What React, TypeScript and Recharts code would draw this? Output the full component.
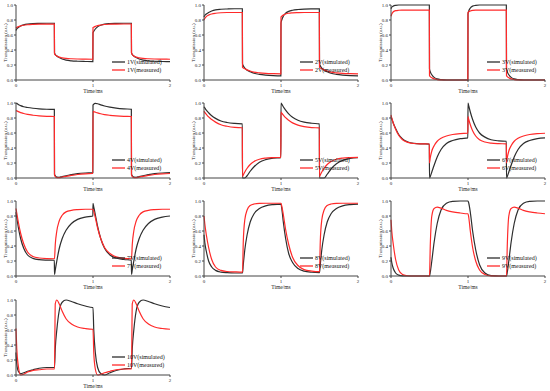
import React from "react"
import { LineChart, Line, XAxis, YAxis, Legend } from "recharts"

// time grid (ms), denser right after each switching edge
const time = [
  0, 0.01, 0.03, 0.06, 0.1, 0.15, 0.22, 0.3, 0.4, 0.498,
  0.5, 0.51, 0.53, 0.56, 0.6, 0.65, 0.72, 0.8, 0.9, 0.998,
  1.0, 1.01, 1.03, 1.06, 1.1, 1.15, 1.22, 1.3, 1.4, 1.498,
  1.5, 1.51, 1.53, 1.56, 1.6, 1.65, 1.72, 1.8, 1.9, 2.0,
]

const voltages = ["1V", "2V", "3V", "4V", "5V", "6V", "7V", "8V", "9V", "10V"]
const xTicks = [0, 1, 2]
const yTicks = [0, 0.2, 0.4, 0.6, 0.8, 1.0]

const sim1 = [
  0.66, 0.68, 0.7, 0.72, 0.735, 0.745, 0.752, 0.755, 0.757, 0.757,
  0.36, 0.34, 0.32, 0.3, 0.28, 0.265, 0.255, 0.25, 0.247, 0.245,
  0.63, 0.65, 0.68, 0.71, 0.73, 0.745, 0.752, 0.755, 0.757, 0.757,
  0.36, 0.34, 0.32, 0.3, 0.28, 0.265, 0.255, 0.25, 0.247, 0.245,
]
const meas1 = [
  0.69, 0.7, 0.71, 0.72, 0.73, 0.737, 0.742, 0.745, 0.746, 0.746,
  0.35, 0.335, 0.32, 0.305, 0.295, 0.288, 0.283, 0.28, 0.278, 0.277,
  0.7, 0.705, 0.715, 0.725, 0.733, 0.74, 0.744, 0.746, 0.747, 0.747,
  0.36, 0.34, 0.32, 0.305, 0.295, 0.288, 0.283, 0.28, 0.278, 0.277,
]
const sim2 = [
  0.84, 0.86, 0.88, 0.9, 0.92, 0.935, 0.943, 0.947, 0.95, 0.95,
  0.22, 0.19, 0.16, 0.13, 0.11, 0.09, 0.075, 0.065, 0.058, 0.055,
  0.76, 0.8, 0.85, 0.89, 0.915, 0.93, 0.94, 0.946, 0.949, 0.95,
  0.22, 0.19, 0.16, 0.13, 0.11, 0.09, 0.075, 0.065, 0.058, 0.055,
]
const meas2 = [
  0.8, 0.82, 0.845, 0.865, 0.88, 0.89, 0.897, 0.9, 0.9, 0.9,
  0.17, 0.16, 0.15, 0.135, 0.12, 0.105, 0.095, 0.088, 0.084, 0.082,
  0.84, 0.85, 0.865, 0.88, 0.89, 0.895, 0.898, 0.9, 0.9, 0.9,
  0.17, 0.16, 0.15, 0.135, 0.12, 0.105, 0.095, 0.088, 0.084, 0.082,
]
const sim3 = [
  0.95, 0.97, 0.985, 0.995, 1, 1, 1, 1, 1, 1,
  0.15, 0.11, 0.07, 0.035, 0.015, 0.005, 0, 0, 0, 0,
  0.88, 0.92, 0.96, 0.985, 0.995, 1, 1, 1, 1, 1,
  0.15, 0.11, 0.07, 0.035, 0.015, 0.005, 0, 0, 0, 0,
]
const meas3 = [
  0.85, 0.88, 0.91, 0.925, 0.93, 0.932, 0.933, 0.933, 0.933, 0.933,
  0.06, 0.045, 0.03, 0.015, 0.006, 0.002, 0, 0, 0, 0,
  0.9, 0.91, 0.92, 0.928, 0.932, 0.933, 0.933, 0.933, 0.933, 0.933,
  0.06, 0.045, 0.03, 0.015, 0.006, 0.002, 0, 0, 0, 0,
]
const sim4 = [
  1.0, 0.995, 0.98, 0.965, 0.95, 0.94, 0.93, 0.922, 0.917, 0.915,
  0.05, 0.03, 0.012, 0.01, 0.02, 0.03, 0.045, 0.058, 0.067, 0.072,
  0.97, 0.985, 0.995, 0.99, 0.975, 0.96, 0.945, 0.932, 0.922, 0.917,
  0.05, 0.03, 0.012, 0.01, 0.02, 0.03, 0.045, 0.058, 0.067, 0.072,
]
const meas4 = [
  0.9, 0.895, 0.885, 0.872, 0.86, 0.848, 0.837, 0.828, 0.822, 0.82,
  0.04, 0.02, 0.005, 0.005, 0.012, 0.022, 0.035, 0.047, 0.056, 0.06,
  0.89, 0.885, 0.878, 0.868, 0.857, 0.846, 0.836, 0.828, 0.822, 0.82,
  0.04, 0.02, 0.005, 0.005, 0.012, 0.022, 0.035, 0.047, 0.056, 0.06,
]
const sim5 = [
  0.95, 0.935, 0.905, 0.87, 0.83, 0.795, 0.76, 0.74, 0.728, 0.722,
  0, 0, 0, 0.03, 0.09, 0.15, 0.21, 0.245, 0.265, 0.272,
  1.0, 0.985, 0.95, 0.905, 0.855, 0.81, 0.77, 0.745, 0.73, 0.722,
  0, 0, 0, 0, 0.05, 0.12, 0.19, 0.235, 0.26, 0.27,
]
const meas5 = [
  0.89, 0.875, 0.85, 0.815, 0.78, 0.745, 0.71, 0.69, 0.675, 0.67,
  0.02, 0.04, 0.08, 0.13, 0.18, 0.22, 0.25, 0.265, 0.272, 0.275,
  0.88, 0.865, 0.84, 0.805, 0.77, 0.735, 0.705, 0.685, 0.672, 0.668,
  0.02, 0.04, 0.08, 0.13, 0.18, 0.22, 0.25, 0.265, 0.272, 0.275,
]
const sim6 = [
  0.82, 0.79, 0.73, 0.66, 0.58, 0.52, 0.48, 0.462, 0.455, 0.452,
  0, 0.02, 0.08, 0.17, 0.28, 0.38, 0.46, 0.5, 0.525, 0.535,
  1.0, 0.96, 0.88, 0.78, 0.68, 0.6, 0.545, 0.51, 0.495, 0.49,
  0, 0.02, 0.08, 0.17, 0.28, 0.38, 0.46, 0.5, 0.525, 0.535,
]
const meas6 = [
  0.84, 0.8, 0.73, 0.65, 0.57, 0.51, 0.475, 0.46, 0.455, 0.453,
  0.2, 0.27, 0.36, 0.43, 0.49, 0.53, 0.56, 0.58, 0.592, 0.597,
  0.82, 0.78, 0.71, 0.63, 0.56, 0.51, 0.48, 0.465, 0.458, 0.455,
  0.2, 0.27, 0.36, 0.43, 0.49, 0.53, 0.56, 0.58, 0.592, 0.597,
]
const sim7 = [
  0.85, 0.78, 0.65, 0.5, 0.37, 0.28, 0.235, 0.218, 0.212, 0.21,
  0.02, 0.08, 0.2, 0.36, 0.5, 0.61, 0.7, 0.755, 0.785, 0.8,
  0.97, 0.92, 0.82, 0.66, 0.5, 0.37, 0.28, 0.24, 0.22, 0.212,
  0.02, 0.08, 0.2, 0.36, 0.5, 0.61, 0.7, 0.755, 0.785, 0.8,
]
const meas7 = [
  0.9, 0.84, 0.72, 0.57, 0.43, 0.32, 0.26, 0.24, 0.232, 0.23,
  0.23, 0.42, 0.6, 0.73, 0.81, 0.855, 0.875, 0.885, 0.89, 0.89,
  0.89, 0.86, 0.78, 0.64, 0.5, 0.38, 0.3, 0.255, 0.235, 0.23,
  0.23, 0.42, 0.6, 0.73, 0.81, 0.855, 0.875, 0.885, 0.89, 0.89,
]
const sim8 = [
  0.55, 0.45, 0.33, 0.2, 0.12, 0.075, 0.052, 0.044, 0.04, 0.04,
  0.04, 0.15, 0.35, 0.55, 0.72, 0.83, 0.9, 0.935, 0.952, 0.958,
  0.958, 0.9, 0.72, 0.5, 0.3, 0.18, 0.1, 0.065, 0.05, 0.045,
  0.045, 0.15, 0.35, 0.55, 0.72, 0.83, 0.9, 0.935, 0.952, 0.958,
]
const meas8 = [
  0.8, 0.7, 0.55, 0.38, 0.22, 0.12, 0.075, 0.06, 0.055, 0.052,
  0.052, 0.45, 0.75, 0.88, 0.94, 0.96, 0.968, 0.97, 0.97, 0.97,
  0.97, 0.93, 0.82, 0.62, 0.42, 0.25, 0.14, 0.085, 0.065, 0.058,
  0.058, 0.45, 0.75, 0.88, 0.94, 0.96, 0.968, 0.97, 0.97, 0.97,
]
const sim9 = [
  0.25, 0.18, 0.1, 0.04, 0.012, 0.002, 0, 0, 0, 0,
  0, 0.05, 0.2, 0.45, 0.7, 0.88, 0.97, 0.995, 1, 1,
  1, 0.97, 0.85, 0.6, 0.35, 0.15, 0.04, 0.005, 0, 0,
  0, 0.05, 0.2, 0.45, 0.7, 0.88, 0.97, 0.995, 1, 1,
]
const meas9 = [
  0.75, 0.6, 0.42, 0.22, 0.08, 0.02, 0.003, 0, 0, 0,
  0, 0.4, 0.8, 0.9, 0.918, 0.905, 0.875, 0.855, 0.84, 0.83,
  0.83, 0.78, 0.6, 0.38, 0.2, 0.08, 0.02, 0.002, 0, 0,
  0, 0.4, 0.8, 0.9, 0.918, 0.905, 0.875, 0.855, 0.84, 0.83,
]
const sim10 = [
  0.3, 0.15, 0.05, 0.02, 0.03, 0.05, 0.07, 0.09, 0.1, 0.1,
  0.1, 0.35, 0.6, 0.85, 0.97, 1.0, 0.98, 0.95, 0.92, 0.9,
  0.9, 0.6, 0.3, 0.1, 0.02, 0, 0.03, 0.06, 0.08, 0.09,
  0.09, 0.35, 0.6, 0.85, 0.97, 1.0, 0.98, 0.95, 0.92, 0.9,
]
const meas10 = [
  0.62, 0.35, 0.12, 0, 0.01, 0.04, 0.06, 0.07, 0.08, 0.08,
  0.08, 0.95, 1.0, 0.95, 0.85, 0.75, 0.68, 0.64, 0.62, 0.61,
  0.61, 0.3, 0.08, 0, 0.01, 0.03, 0.05, 0.07, 0.08, 0.08,
  0.08, 0.95, 1.0, 0.95, 0.85, 0.75, 0.68, 0.64, 0.62, 0.61,
]

const simulated = [sim1, sim2, sim3, sim4, sim5, sim6, sim7, sim8, sim9, sim10]
const measured = [meas1, meas2, meas3, meas4, meas5, meas6, meas7, meas8, meas9, meas10]

const FONT = '"Liberation Serif", "Times New Roman", serif'
const BLACK = "#2e2e2e"
const RED = "#ff2a2a"
const colLeft = [0, 188, 375]
const rowTop = [0, 97.5, 196, 294.5]

const makeLegend = (v: string) => () => (
  <div style={{ fontFamily: FONT, fontSize: 6, lineHeight: "8px", color: "#111", whiteSpace: "nowrap" }}>
    {[
      [BLACK, "(simulated)"],
      [RED, "(measured)"],
    ].map(([c, txt]) => (
      <div key={txt} style={{ display: "flex", alignItems: "center", height: 8 }}>
        <svg width={13} height={8} style={{ marginRight: 2 }}>
          <line x1={0} y1={4} x2={13} y2={4} stroke={c} strokeWidth={1.3} />
        </svg>
        <span style={{ color: "#111" }}>{v + txt}</span>
      </div>
    ))}
  </div>
)

function Panel({ idx }: { idx: number }) {
  const data = time.map((t, i) => ({ t, sim: simulated[idx][i], meas: measured[idx][i] }))
  const tickStyle = { fontSize: 5, fontFamily: FONT, fill: "#222" }
  return (
    <LineChart width={175} height={96} data={data} margin={{ top: 5, right: 5, left: 0, bottom: 0 }}>
      <XAxis
        dataKey="t"
        type="number"
        domain={[0, 2]}
        ticks={xTicks}
        tick={tickStyle}
        tickSize={2}
        tickMargin={1}
        height={16}
        stroke="#444"
        label={{ value: "Time/ms", position: "insideBottom", offset: 3, style: { fontSize: 5.5, fontFamily: FONT, fill: "#222" } }}
      />
      <XAxis xAxisId="top" orientation="top" type="number" domain={[0, 2]} tick={false} height={0} stroke="#444" />
      <YAxis
        domain={[0, 1]}
        ticks={yTicks}
        tickFormatter={(v: number) => v.toFixed(1)}
        tick={tickStyle}
        tickSize={2}
        tickMargin={1}
        width={16}
        stroke="#444"
        label={{
          value: "Transmission (a.u.)",
          angle: -90,
          position: "insideLeft",
          offset: 5,
          style: { textAnchor: "middle", fontSize: 5, fontFamily: FONT, fill: "#222" },
        }}
      />
      <YAxis yAxisId="right" orientation="right" domain={[0, 1]} tick={false} width={0} stroke="#444" />
      <Legend
        layout="vertical"
        align="center"
        verticalAlign="middle"
        content={makeLegend(voltages[idx])}
        wrapperStyle={{ left: 112, top: 58, width: 62, height: 16 }}
      />
      <Line dataKey="sim" type="monotone" stroke={BLACK} strokeWidth={1.2} dot={false} isAnimationActive={false} />
      <Line dataKey="meas" type="monotone" stroke={RED} strokeWidth={1.2} dot={false} isAnimationActive={false} />
    </LineChart>
  )
}

export default function App() {
  return (
    <div style={{ position: "absolute", left: 0, top: 0, width: 550, height: 391, background: "#fff" }}>
      {voltages.map((_, i) => (
        <div key={i} style={{ position: "absolute", left: colLeft[i % 3], top: rowTop[Math.floor(i / 3)] }}>
          <Panel idx={i} />
        </div>
      ))}
    </div>
  )
}
